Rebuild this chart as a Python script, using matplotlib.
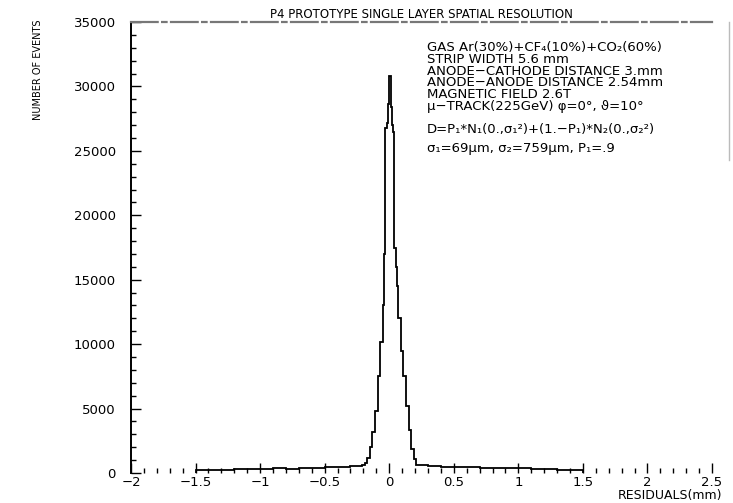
from matplotlib import pyplot as plt
from matplotlib.ticker import MultipleLocator
from matplotlib.lines import Line2D

# ----------------------------------------
# Histogram (mm, events per bin)
# ----------------------------------------
bin_edges = [-1.5, -1.4, -1.3, -1.2, -1.1, -1.0, -0.9, -0.8, -0.7, -0.6,
             -0.5, -0.4, -0.3, -0.21, -0.19, -0.17, -0.15, -0.13, -0.11,
             -0.09, -0.07, -0.05, -0.04, -0.03, -0.02, -0.01, 0.0, 0.01,
             0.02, 0.03, 0.04, 0.05, 0.06, 0.07, 0.09, 0.11, 0.13, 0.15,
             0.17, 0.19, 0.21, 0.23, 0.3, 0.4, 0.5, 0.6, 0.7, 0.8, 0.9,
             1.0, 1.1, 1.2, 1.3, 1.4, 1.5]
counts = [200, 250, 250, 300, 300, 300, 350, 300, 350, 400,
          450, 500, 550, 600, 800, 1200, 2000, 3200, 4800,
          7500, 10200, 13000, 17000, 26800, 27200, 28600, 30800, 28400,
          27000, 26500, 17500, 16000, 14500, 12000, 9500, 7500, 5200,
          3300, 1900, 1100, 650, 600, 550, 500, 500, 450, 400, 400,
          350, 350, 300, 300, 250, 250]

x_ticks = [-2, -1.5, -1, -0.5, 0, 0.5, 1, 1.5, 2, 2.5]
x_tick_labels = ["\u22122", "\u22121.5", "\u22121", "\u22120.5", "0",
                 "0.5", "1", "1.5", "2", "2.5"]
y_ticks = [0, 5000, 10000, 15000, 20000, 25000, 30000, 35000]

info_lines = [
    "GAS Ar(30%)+CF\u2084(10%)+CO\u2082(60%)",
    "STRIP WIDTH 5.6 mm",
    "ANODE\u2212CATHODE DISTANCE 3.mm",
    "ANODE\u2212ANODE DISTANCE 2.54mm",
    "MAGNETIC FIELD 2.6T",
    "\u03bc\u2212TRACK(225GeV) \u03c6=0\u00b0, \u03d1=10\u00b0",
]
fit_lines = [
    "D=P\u2081*N\u2081(0.,\u03c3\u2081\u00b2)+(1.\u2212P\u2081)*N\u2082(0.,\u03c3\u2082\u00b2)",
    "\u03c3\u2081=69\u03bcm, \u03c3\u2082=759\u03bcm, P\u2081=.9",
]

plt.rcParams["font.family"] = ["DejaVu Sans"]

fig = plt.figure(figsize=(7.33, 5.03), dpi=100)
ax = fig.add_axes([131 / 733, 1 - 473 / 503, (712 - 131) / 733, (473 - 22) / 503])

ax.stairs(counts, bin_edges, color="black", linewidth=1.3)

ax.set_xlim(-2, 2.5)
ax.set_ylim(0, 35000)

# ----------------------------------------
# Frame and ticks
# ----------------------------------------
ax.spines["bottom"].set_visible(False)
ax.spines["right"].set_visible(False)
ax.spines["left"].set_linewidth(1.4)
ax.spines["top"].set_color("#777777")
ax.spines["top"].set_linewidth(1.6)
ax.spines["top"].set_linestyle((0, (12, 2, 2, 2)))

ax.set_xticks(x_ticks)
ax.set_xticklabels(x_tick_labels)
ax.set_yticks(y_ticks)
ax.xaxis.set_minor_locator(MultipleLocator(0.1))
ax.yaxis.set_minor_locator(MultipleLocator(1000))
ax.tick_params(axis="both", which="both", direction="in", width=1.0,
               top=False, right=False)
ax.tick_params(axis="both", which="major", length=7, labelsize=9.5)
ax.tick_params(axis="both", which="minor", length=3.5)
ax.tick_params(axis="x", which="major", pad=2)
ax.tick_params(axis="y", which="major", pad=11)

ax.set_title("P4 PROTOTYPE SINGLE LAYER SPATIAL RESOLUTION",
             fontsize=8.5, pad=3)

# faint right border
fig.add_artist(Line2D([729 / 733, 729 / 733], [1 - 22 / 503, 1 - 160 / 503],
                      color="#bbbbbb", linewidth=1.0))

fig.text(38 / 733, 1 - 70 / 503, "NUMBER OF EVENTS", rotation=90,
         ha="center", va="center", fontsize=7,
         family=["Liberation Sans Narrow", "DejaVu Sans"])
fig.text(722 / 733, 1 - 502 / 503, "RESIDUALS(mm)", ha="right",
         va="bottom", fontsize=9)

# ----------------------------------------
# Annotation block
# ----------------------------------------
fig.text(427 / 733, 1 - 41 / 503, "\n".join(info_lines), ha="left",
         va="top", fontsize=9.5, linespacing=0.88)
fig.text(427 / 733, 1 - 123 / 503, "\n".join(fit_lines), ha="left",
         va="top", fontsize=9.5, linespacing=1.6)

fig.savefig("out.png", dpi=100)
